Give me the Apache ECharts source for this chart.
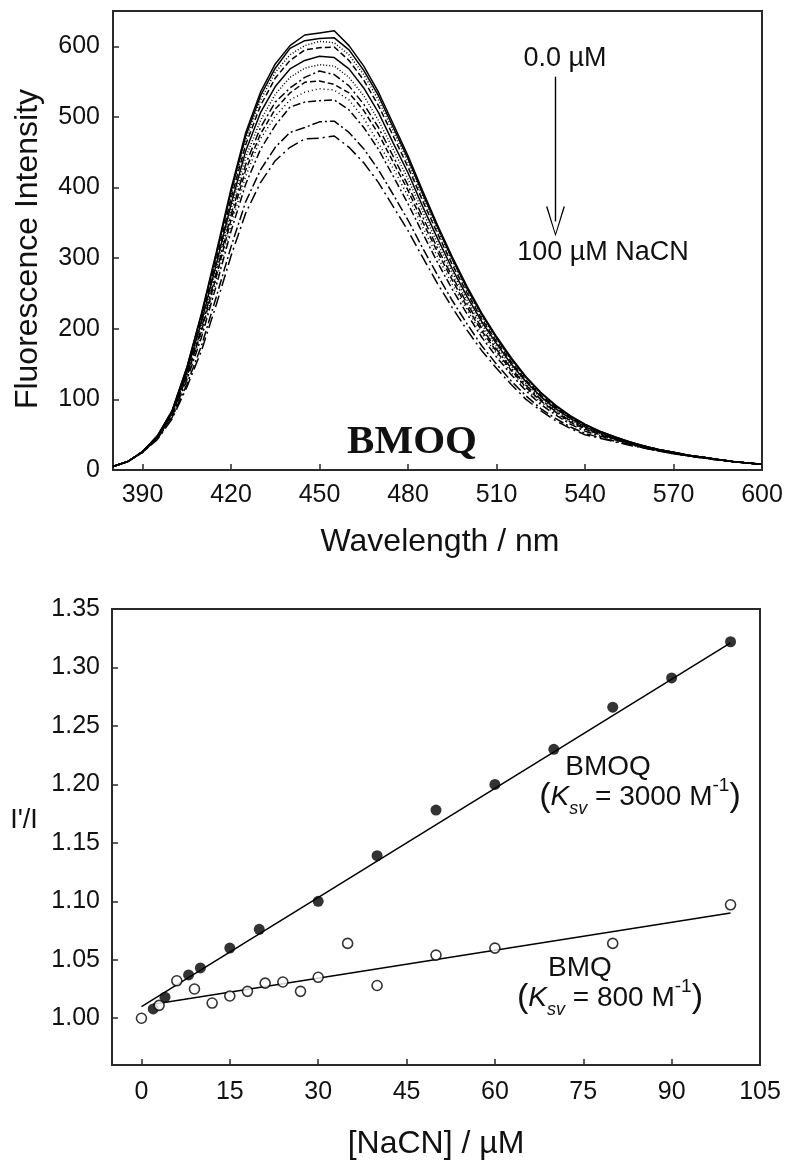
<!DOCTYPE html>
<html>
<head>
<meta charset="utf-8">
<script src="https://cdn.jsdelivr.net/npm/echarts@6/dist/echarts.min.js"></script>
<style>
  html, body { margin: 0; padding: 0; background: #fff; }
  #chart { width: 791px; height: 1165px; }
</style>
</head>
<body>
<div id="chart"></div>
<script>
// ---- Emission spectra of BMOQ with increasing NaCN (0 -> 100 uM) ----
const wavelengths = [380,385,390,395,400,405,410,415,420,425,430,435,440,445,450,455,460,465,470,475,480,485,490,495,500,505,510,515,520,525,530,535,540,545,550,555,560,565,570,575,580,585,590,595,600];

const scan01 = [5,12,26,48,84,145,222,308,398,478,535,575,601,616,619,622,601,572,535,490,445,395,347,302,260,222,189,159,132,110,92,77,65,55,47,40,34,29,25,21,18,15,12,10,8];
const scan02 = [5,12,26,48,83,144,220,305,394,473,530,569,597,608,611,612,595,566,530,485,441,391,344,299,257,220,187,157,131,109,91,76,64,55,47,40,34,29,25,21,18,15,12,10,8];
const scan03 = [5,12,26,48,83,143,217,302,390,468,524,563,588,601,607,605,588,560,524,480,436,387,340,296,255,217,185,156,129,108,90,75,64,54,46,40,34,29,25,21,18,15,12,10,8];
const scan04 = [5,12,26,47,82,141,214,297,384,461,516,555,580,595,598,599,580,552,516,473,429,381,335,291,251,214,182,153,127,106,89,74,63,54,46,39,34,29,25,21,18,15,12,10,8];
const scan05 = [5,12,26,47,81,139,210,291,376,452,506,543,568,580,586,584,568,541,506,463,421,373,328,285,246,210,179,150,125,104,87,73,61,53,45,39,33,28,25,21,18,15,12,10,8];
const scan06 = [5,12,26,47,80,136,206,285,369,443,495,532,556,569,574,572,556,530,495,454,412,366,321,280,241,206,175,147,122,102,85,71,60,52,45,39,33,28,24,21,18,15,12,10,8];
const scan07 = [5,12,26,46,79,134,201,279,361,433,485,521,541,556,565,560,544,518,485,444,403,358,314,274,236,201,171,144,120,100,83,70,59,51,44,38,33,28,24,20,18,15,12,10,8];
const scan08 = [5,12,25,46,78,132,197,274,354,425,476,511,534,549,551,546,534,509,476,436,396,351,309,269,231,197,168,141,117,98,82,68,58,50,44,38,32,28,24,20,18,15,12,10,8];
const scan09 = [5,12,25,46,77,130,193,268,347,416,469,501,524,535,540,538,524,498,463,427,388,344,302,263,227,193,165,138,115,96,80,67,57,49,43,37,32,28,24,20,18,15,12,10,8];
const scan10 = [5,12,25,45,76,127,188,261,338,405,454,488,514,521,523,524,510,485,454,416,377,335,294,256,221,188,160,135,112,93,78,65,55,48,43,37,32,27,24,20,17,15,12,10,8];
const scan11 = [5,12,25,44,74,121,176,245,316,380,425,457,478,485,493,494,478,455,425,390,354,314,276,240,207,176,150,126,105,87,73,61,52,46,41,36,31,27,23,20,17,14,12,10,8];
const scan12 = [5,12,25,43,72,117,169,234,303,364,407,438,457,469,470,473,457,435,407,373,339,301,264,230,198,169,144,121,100,84,70,59,50,45,40,35,31,27,23,20,17,14,12,10,8];

const wavelengthTicks = [390,420,450,480,510,540,570,600];
const intensityTicks = [0,100,200,300,400,500,600];

// ---- Stern-Volmer data ----
const bmoqConc  = [2, 4, 8, 10, 15, 20, 30, 40, 50, 60, 70, 80, 90, 100];
const bmoqRatio = [1.008, 1.018, 1.037, 1.043, 1.060, 1.076, 1.100, 1.139, 1.178, 1.200, 1.230, 1.266, 1.291, 1.322];
const bmqConc   = [0, 3, 6, 9, 12, 15, 18, 21, 24, 27, 30, 35, 40, 50, 60, 80, 100];
const bmqRatio  = [1.000, 1.011, 1.032, 1.025, 1.013, 1.019, 1.023, 1.030, 1.031, 1.023, 1.035, 1.064, 1.028, 1.054, 1.060, 1.064, 1.097];
const bmoqFitConc  = [0, 100];
const bmoqFitRatio = [1.010, 1.321];
const bmqFitConc   = [2, 100];
const bmqFitRatio  = [1.012, 1.090];

const concTicks  = [0,15,30,45,60,75,90,105];
const ratioTicks = [1.00,1.05,1.10,1.15,1.20,1.25,1.30,1.35];

// ---- styling ----
const INK = '#111';
const FRAME = '#2a2a2a';
const SANS = '"Liberation Sans", Arial, sans-serif';
const SERIF = '"Liberation Serif", "DejaVu Serif", serif';
const TICK_FONT = 25;
const TITLE_FONT = 32;

const scans = [scan01,scan02,scan03,scan04,scan05,scan06,scan07,scan08,scan09,scan10,scan11,scan12];
const dashes = ['solid','solid',[1,2],[6,3],'solid',[1,2],[8,3,2,3],[6,3],[1,3],[8,3,2,3],[10,3,2,3],[12,4,2,4]];

const zip = (xs, ys) => xs.map((x, i) => [x, ys[i]]);

function frameAxis(gridIndex, min, max, ticks, margin, formatter) {
  return {
    type: 'value', gridIndex, min, max,
    splitLine: { show: false },
    axisLine: { show: true, onZero: false, lineStyle: { color: FRAME, width: 2 } },
    axisTick: { show: true, inside: true, length: 6, customValues: ticks, lineStyle: { color: FRAME, width: 1.5 } },
    axisLabel: { color: INK, fontSize: TICK_FONT, fontFamily: SANS, margin, customValues: ticks, formatter }
  };
}

const spectrumSeries = scans.map((s, k) => ({
  type: 'line',
  xAxisIndex: 0, yAxisIndex: 0,
  data: zip(wavelengths, s),
  showSymbol: false,
  silent: true,
  lineStyle: { color: '#000', width: 1.5, type: dashes[k] },
  markLine: k === 0 ? {
    silent: true,
    symbol: ['none', 'path://M9,0 L18,28 L16.6,28 L9,3 L1.4,28 L0,28 Z'],
    symbolSize: [19, 30],
    label: { show: false },
    lineStyle: { color: '#000', width: 1.4, type: 'solid' },
    data: [[{ coord: [530, 557] }, { coord: [530, 352] }]]
  } : undefined
}));

function ksvText(value) {
  return {
    text: '{p|(}{k|K}{s|sv}{t| = ' + value + ' M}{u|-1}{p|)}',
    align: 'center', verticalAlign: 'middle', fill: INK, fontFamily: SANS,
    rich: {
      p: { fontSize: 34, lineHeight: 42, fontFamily: SANS, fill: INK },
      k: { fontSize: 28, lineHeight: 42, fontStyle: 'italic', fontFamily: SANS, fill: INK },
      s: { fontSize: 18, lineHeight: 24, fontStyle: 'italic', verticalAlign: 'bottom', fontFamily: SANS, fill: INK },
      t: { fontSize: 28, lineHeight: 42, fontFamily: SANS, fill: INK },
      u: { fontSize: 19, lineHeight: 24, verticalAlign: 'top', fontFamily: SANS, fill: INK }
    }
  };
}

function label(x, y, text, size, extra) {
  return { type: 'text', x, y,
    style: Object.assign({ text, fontSize: size, fontFamily: SANS, fill: INK, align: 'center', verticalAlign: 'middle' }, extra || {}) };
}

const option = {
  animation: false,
  backgroundColor: '#fff',
  grid: [
    { left: 113, top: 11, width: 649, height: 459, show: true, borderColor: FRAME, borderWidth: 2 },
    { left: 112, top: 609, width: 648, height: 456, show: true, borderColor: FRAME, borderWidth: 2 }
  ],
  xAxis: [
    frameAxis(0, 380, 600, wavelengthTicks, 13),
    frameAxis(1, -5, 105, concTicks, 15)
  ],
  yAxis: [
    frameAxis(0, 0, 650, intensityTicks, 13),
    frameAxis(1, 0.96, 1.35, ratioTicks, 12, v => Number(v).toFixed(2))
  ],
  series: spectrumSeries.concat([
    {
      type: 'line', xAxisIndex: 1, yAxisIndex: 1, z: 2,
      data: zip(bmoqFitConc, bmoqFitRatio), showSymbol: false, silent: true,
      lineStyle: { color: '#000', width: 1.5 }
    },
    {
      type: 'line', xAxisIndex: 1, yAxisIndex: 1, z: 2,
      data: zip(bmqFitConc, bmqFitRatio), showSymbol: false, silent: true,
      lineStyle: { color: '#000', width: 1.5 }
    },
    {
      type: 'scatter', xAxisIndex: 1, yAxisIndex: 1, z: 3,
      data: zip(bmoqConc, bmoqRatio), symbol: 'circle', symbolSize: 11,
      itemStyle: { color: '#000' }
    },
    {
      type: 'scatter', xAxisIndex: 1, yAxisIndex: 1, z: 3,
      data: zip(bmqConc, bmqRatio), symbol: 'circle', symbolSize: 10,
      itemStyle: { color: '#fff', borderColor: '#000', borderWidth: 1.6 }
    }
  ]),
  graphic: [
    // axis titles
    { type: 'text', x: 28, y: 249, rotation: Math.PI / 2,
      style: { text: 'Fluorescence Intensity', fontSize: TITLE_FONT, fontFamily: SANS, fill: INK, align: 'center', verticalAlign: 'middle' } },
    label(440, 542, 'Wavelength / nm', TITLE_FONT),
    label(24, 821, "I'/I", 27),
    label(436, 1144, '[NaCN] / µM', TITLE_FONT),

    // spectra annotations
    label(565, 59, '0.0 µM', 27),
    label(603, 253, '100 µM NaCN', 27),
    label(412, 442, 'BMOQ', 41, { fontWeight: 'bold', fontFamily: SERIF }),

    // Stern-Volmer annotations
    label(608, 767, 'BMOQ', 28),
    { type: 'text', x: 640, y: 797, style: ksvText('3000') },
    label(580, 968, 'BMQ', 28),
    { type: 'text', x: 610, y: 998, style: ksvText('800') }
  ]
};

const chart = echarts.init(document.getElementById('chart'), null, { renderer: 'canvas' });
chart.setOption(option);
</script>
</body>
</html>
